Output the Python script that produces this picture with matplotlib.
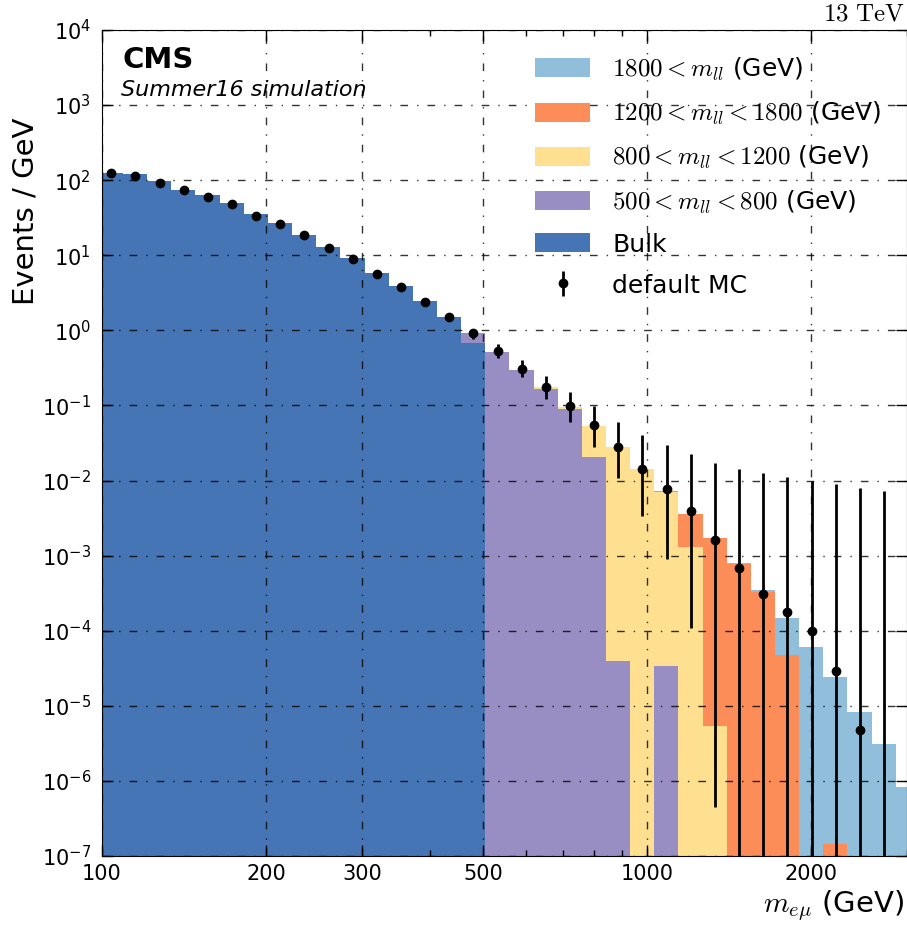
"""Stacked m_emu spectrum (Summer16 simulation) split by generated mass, with default MC overlaid."""

import numpy as np
import matplotlib
matplotlib.use("Agg")
import matplotlib.pyplot as plt
from matplotlib.ticker import LogLocator, NullFormatter, NullLocator

# bin edges in m_emu (GeV), log-spaced
EDGES = [98.7, 109.3, 121.0, 134.0, 148.4, 164.4, 182.0, 201.6, 223.2, 247.2,
         273.8, 303.2, 335.7, 371.8, 411.7, 455.9, 504.9, 559.1, 619.2, 685.7,
         759.3, 840.9, 931.2, 1031, 1142, 1265, 1401, 1551, 1718, 1902,
         2106, 2333, 2583, 2861, 3168]

# events / GeV per bin, one list per generated-mass slice
BULK = [126, 121, 96.7, 74, 63, 49, 35.2, 26.6, 18.8, 12.8, 9.2, 5.86, 3.9, 2.44,
        1.50, 0.673] + [0.0] * 18
M500_800 = [0.0] * 14 + [0.02, 0.24, 0.51, 0.295, 0.168, 0.09, 0.0208, 4.0e-5,
                         0.0, 3.4e-5] + [0.0] * 10
M800_1200 = [0.0] * 16 + [0.005, 0.006, 0.006, 0.006, 0.033, 0.0277, 0.0142,
                          0.0070, 0.00132, 5.4e-6] + [0.0] * 8
M1200_1800 = [0.0] * 22 + [1e-4, 1.5e-4, 0.00231, 0.00172, 7.8e-4, 3.3e-4,
                           4.76e-5, 0.0, 1.46e-7] + [0.0] * 3
M1800 = [0.0] * 26 + [1e-5, 2e-5, 9.9e-5, 6.1e-5, 2.43e-5, 8.3e-6, 3.08e-6, 8.2e-7]

# default MC points with their error-bar ends
MC = [125, 115, 92.7, 74, 60, 47.7, 33.6, 26.1, 18.5, 12.5, 8.9, 5.7, 3.78, 2.39,
      1.49, 0.91, 0.53, 0.31, 0.176, 0.099, 0.055, 0.028, 0.0143, 0.0078, 0.00398,
      0.0016, 6.9e-4, 3.06e-4, 1.76e-4, 9.8e-5, 2.95e-5, 4.8e-6, 0.0]
MC_LO = [122, 112, 90, 71.5, 58, 46, 32.3, 25, 17.6, 11.8, 8.3, 5.2, 3.4, 2.1,
         1.32, 0.762, 0.433, 0.237, 0.122, 0.0608, 0.0283, 0.01094, 0.00341,
         9.0e-4, 1.1e-4, 4.5e-7, 0, 0, 0, 0, 0, 0, 0]
MC_HI = [128, 118, 95.5, 76.5, 62, 49.4, 34.9, 27.2, 19.4, 13.2, 9.5, 6.2, 4.2, 2.7,
         1.69, 1.035, 0.659, 0.404, 0.247, 0.151, 0.0984, 0.0608, 0.0405, 0.0295,
         0.0224, 0.0173, 0.0144, 0.0125, 0.01127, 0.00997, 0.0090, 0.0080, 0.00727]

LAYERS = [BULK, M500_800, M800_1200, M1200_1800, M1800]
LABELS = ["Bulk",
          r"$500 < m_{ll} < 800$ (GeV)",
          r"$800 < m_{ll} < 1200$ (GeV)",
          r"$1200 < m_{ll} < 1800$ (GeV)",
          r"$1800 < m_{ll}$ (GeV)"]
COLORS = ["#4575b4", "#998ec3", "#fee090", "#fc8d59", "#91bfdb"]

XTICKS = [100, 200, 300, 500, 1000, 2000]


def main():
    plt.rcParams["mathtext.fontset"] = "dejavusans"

    fig = plt.figure(figsize=(9.07, 9.26), dpi=100)
    ax = fig.add_axes([0.1125, 0.0756, 0.8875, 0.892])

    edges = np.array(EDGES)
    floor = 1e-12
    prev = np.full(len(edges) - 1, floor)
    handles = []
    for vals, lab, col in zip(LAYERS, LABELS, COLORS):
        cum = prev + np.array(vals, dtype=float)
        h = ax.stairs(cum, edges, baseline=prev, fill=True, color=col,
                      label=lab, zorder=1)
        handles.append(h)
        prev = cum

    mc = np.array(MC, dtype=float)
    centers = 0.5 * (edges[:-1] + edges[1:])[:len(mc)]
    yerr = [mc - np.array(MC_LO, dtype=float), np.array(MC_HI, dtype=float) - mc]
    eb = ax.errorbar(centers, mc, yerr=yerr, fmt="o", color="black", ms=6,
                     elinewidth=2, capsize=0, label="default MC", zorder=3)

    ax.set_xscale("log")
    ax.set_yscale("log")
    ax.set_xlim(100, 3000)
    ax.set_ylim(1e-7, 1e4)

    ax.set_xticks(XTICKS, [str(t) for t in XTICKS])
    ax.xaxis.set_minor_locator(LogLocator(base=10, subs=np.arange(2, 10)))
    ax.xaxis.set_minor_formatter(NullFormatter())
    ax.yaxis.set_major_locator(LogLocator(base=10, numticks=20))
    ax.yaxis.set_minor_locator(NullLocator())

    ax.tick_params(which="both", direction="in", top=True, right=True, labelsize=15)
    ax.tick_params(which="major", length=8, width=1)
    ax.tick_params(which="minor", length=4, width=1)
    ax.tick_params(axis="y", pad=8)
    ax.tick_params(axis="x", pad=6)

    ax.grid(True, which="major", color="black", alpha=0.8, linewidth=1,
            linestyle=(0, (5.5, 6.5, 1, 6.5)))

    ax.text(0.025, 0.954, "CMS", fontsize=21, fontweight="bold",
            transform=ax.transAxes, va="baseline")
    ax.text(0.024, 0.92, "Summer16 simulation", fontsize=16, style="italic",
            transform=ax.transAxes, va="baseline")

    fig.text(0.997, 0.978, r"$\mathrm{13\ TeV}$", ha="right", va="baseline",
             fontsize=18, math_fontfamily="cm")
    fig.text(0.997, 0.0151, r"$m_{e\mu}$ (GeV)", ha="right", va="baseline",
             fontsize=21, math_fontfamily="cm")
    fig.text(0.0276, 0.772, "Events / GeV", rotation=90, ha="center",
             va="center", fontsize=21)

    leg = ax.legend(handles[::-1] + [eb], LABELS[::-1] + ["default MC"],
                    fontsize=18, loc="upper left", bbox_to_anchor=(0.538, 0.969),
                    frameon=False, borderpad=0, borderaxespad=0,
                    handlelength=2.2, handleheight=0.8, handletextpad=0.88,
                    labelspacing=0.68)
    for t in leg.get_texts():
        t.set_math_fontfamily("cm")

    fig.savefig("out.png", dpi=100)


if __name__ == "__main__":
    main()
